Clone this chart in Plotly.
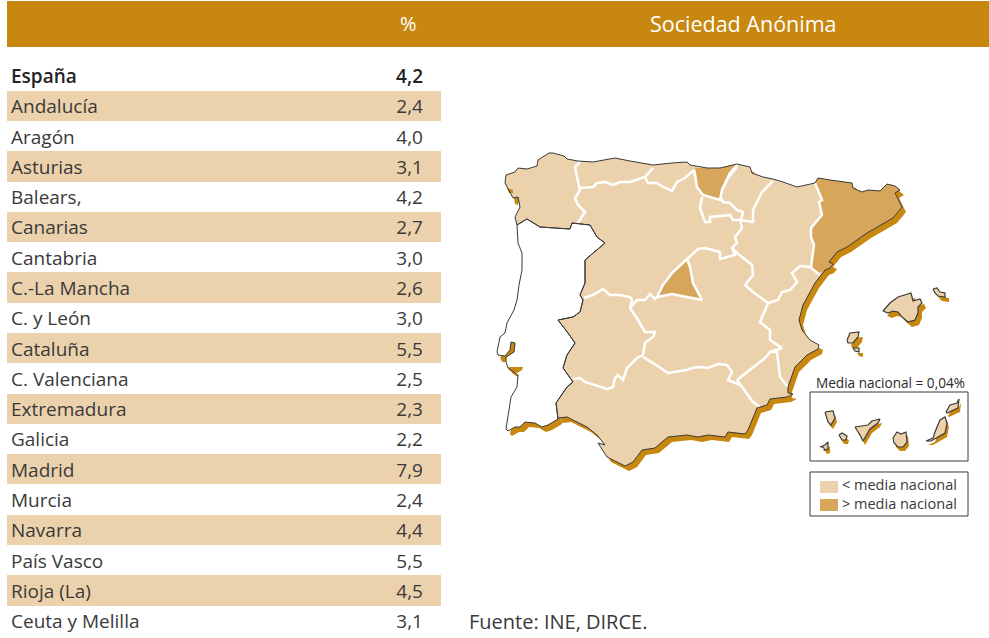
import plotly.graph_objects as go

REGIONS = ["España", "Andalucía", "Aragón", "Asturias", "Balears,", "Canarias", "Cantabria", "C.-La Mancha",
           "C. y León", "Cataluña", "C. Valenciana", "Extremadura", "Galicia", "Madrid", "Murcia", "Navarra",
           "País Vasco", "Rioja (La)", "Ceuta y Melilla"]
VALUES = [4.2, 2.4, 4.0, 3.1, 4.2, 2.7, 3.0, 2.6, 3.0, 5.5, 2.5, 2.3, 2.2, 7.9, 2.4, 4.4, 5.5, 4.5, 3.1]

GOLD = "#C8870F"
LIGHT = "#ECD2AC"
DARK = "#D8A65A"
INK = "#3A3A3A"
FONT = "Open Sans"

SPAIN = [(505,183),(506,175),(515,172),(518,168),(527,169),(537,166),(538,160),(549,153),(553,153),(564,156),(567,159),
 (578,161),(593,162),(605,160),(615,158),(630,161),(653,165),(672,163),(687,162),(690,165),(707,168),(720,168),(737,164),
 (750,167),(752,173),(763,177),(773,179),(783,182),(797,187),(815,183),(818,178),(830,180),(852,183),(853,188),(862,192),
 (868,190),(880,191),(887,184),(895,186),(900,190),(895,193),(902,207),(893,218),(867,233),(847,247),(837,252),(829,262),
 (833,264),(830,268),(825,270),(815,283),(803,305),(799,320),(802,330),(810,340),(819,345),(818,349),(807,355),(795,367),
 (788,387),(788,393),(793,394),(787,397),(770,399),(767,405),(757,408),(748,430),(745,434),(728,432),(725,437),(708,435),
 (698,437),(687,435),(668,437),(655,448),(642,450),(633,462),(625,466),(607,457),(598,443),(605,445),(597,435),(587,427),
 (567,417),(558,418),(556,403),(567,387),(573,382),(563,368),(567,355),(575,343),(568,333),(558,320),(573,317),(580,312),
 (583,300),(580,295),(585,283),(585,260),(605,243),(597,237),(590,225),(572,223),(570,229),(547,227),(540,227),(527,219),
 (517,225),(515,217),(520,207),(518,197),(513,198),(505,183)]
PORTUGAL = [(517,225),(518,243),(522,253),(522,270),(519,285),(517,300),(514,310),(507,323),(505,333),(500,337),(497,352),
 (498,355),(505,356),(510,350),(511,342),(515,343),(514,352),(506,357),(506,362),(508,368),(518,375),(517,387),(511,397),
 (506,429),(508,431),(515,427),(520,427),(525,422),(535,423),(542,427),(548,425),(558,419),(556,403),(567,387),(573,382),
 (563,368),(567,355),(575,343),(568,333),(558,320),(573,317),(580,312),(583,300),(580,295),(585,283),(585,260),(605,243),
 (597,237),(590,225),(572,223),(570,229),(547,227),(540,227),(527,219),(517,225)]
PAIS_VASCO = [(695,168),(707,168),(720,168),(737,164),(730,173),(722,190),(720,200),(703,195),(698,187),(697,177)]
MADRID = [(687,259),(690,267),(693,283),(702,299),(690,298),(672,294),(657,297),(663,283),(672,272)]
CATALUNA = [(815,183),(818,178),(830,180),(852,183),(853,188),(862,192),(868,190),(880,191),(887,184),(895,186),(900,190),
 (895,193),(902,207),(893,218),(867,233),(847,247),(837,252),(829,262),(833,264),(830,268),(819,273),(811,267),(812,257),
 (814,245),(811,237),(811,228),(822,215),(819,202),(822,200)]

# coastal inlets that show the darker tone
INLETS = [
 [(511,342),(515,343),(514,352),(507,357),(505,356),(510,350)],
 [(500,357),(506,356),(506,362),(502,362)],
 [(508,367),(523,367),(522,370),(517,373),(510,371)],
 [(507,188),(513,190),(513,193),(509,193)],
 [(514,198),(518,198),(518,205),(515,204)],
]

BORDERS = [
 [(580,162),(575,167),(577,177),(580,190),(575,198),(578,205),(585,212),(578,223)],
 [(580,188),(593,187),(597,183),(605,182),(613,185),(620,182),(630,182),(638,179),(645,177),(653,168)],
 [(645,177),(648,183),(657,183),(663,187),(672,191),(677,182),(685,178),(694,170)],
 [(694,170),(697,187),(703,195),(720,200),(722,190),(730,173),(738,164)],
 [(702,197),(700,208),(705,222),(710,222),(710,217),(720,216),(730,215),(733,220),(740,220),(753,222),(753,210),(762,192),(773,181)],
 [(720,197),(723,202),(730,203),(737,210),(743,212),(741,220)],
 [(737,167),(728,178),(722,190)],
 [(740,220),(742,228),(735,237),(737,243),(732,248),(735,255),(720,259),(720,252),(705,248),(698,249),(687,259)],
 [(687,259),(672,273),(663,285),(657,297),(672,294),(690,298),(702,300),(693,283),(690,267),(687,259)],
 [(657,297),(655,299),(650,294),(645,300),(637,300),(632,305),(630,308)],
 [(584,298),(593,295),(603,289),(610,295),(620,295),(630,297),(632,300),(630,308),(638,320),(645,332),(655,332),(653,337),(645,343),(643,355)],
 [(573,379),(580,378),(585,382),(607,389),(613,387),(615,378),(618,375),(623,380),(627,368),(637,358),(643,355)],
 [(643,357),(653,363),(668,373),(687,370),(692,368),(698,367),(708,368),(718,364),(727,365),(732,372),(728,380),(740,385)],
 [(737,380),(747,393),(753,402),(760,407)],
 [(737,380),(752,368),(765,358),(770,352),(777,352),(780,377),(788,387)],
 [(810,267),(800,266),(792,273),(797,282),(790,290),(782,292),(778,300),(768,303),(753,292),(745,285),(753,275),(752,265),(737,253),(732,248)],
 [(768,303),(760,322),(770,330),(770,340),(782,348),(770,352)],
 [(810,267),(820,275)],
 [(815,183),(822,200),(819,202),(822,215),(811,228),(811,237),(814,245),(812,257),(811,267)],
]

BALEARES = [
 [(883,311),(890,303),(898,297),(905,295),(911,293),(913,301),(920,299),(922,303),(918,307),(918,313),(915,320),(908,322),(902,317),(898,312),(893,311),(888,313),(883,311)],
 [(933,289),(937,288),(940,292),(945,293),(945,297),(938,296),(935,293),(933,289)],
 [(847,340),(850,333),(859,332),(858,337),(853,343),(848,343),(847,340)],
 [(853,348),(859,348),(859,352),(855,351),(853,348)],
]
CANARIAS = [
 [(825,412),(833,411),(835,418),(831,425),(828,422),(825,412)],
 [(839,435),(842,433),(847,436),(846,440),(842,440),(839,435)],
 [(820,447),(825,445),(828,442),(828,449),(825,450),(823,447),(820,447)],
 [(855,427),(868,425),(872,421),(880,419),(878,423),(870,429),(863,441),(860,435),(855,427)],
 [(893,438),(897,432),(901,434),(906,432),(907,442),(903,447),(898,447),(894,443),(893,438)],
 [(926,441),(933,438),(935,432),(940,420),(945,417),(947,423),(945,433),(937,438),(931,441),(926,441)],
 [(946,412),(950,405),(957,403),(959,399),(958,408),(952,411),(947,413),(946,412)],
]

fig = go.Figure()


def poly(points, fill, line=None, width=1, dx=0, dy=0):
    fig.add_trace(go.Scatter(
        x=[p[0] + dx for p in points], y=[p[1] + dy for p in points], mode="lines",
        fill="toself" if fill else None, fillcolor=fill,
        line=dict(color=line or "rgba(0,0,0,0)", width=width if line else 0),
        hoverinfo="skip", showlegend=False))


# table bands and text, drawn on the row axis
rows = list(range(len(REGIONS)))
band_rows = [r for r in rows if r % 2 == 1]
fig.add_trace(go.Bar(y=band_rows, x=[434] * len(band_rows), base=7, width=1, orientation="h", yaxis="y2",
                     marker=dict(color=LIGHT, line=dict(width=0)), hoverinfo="skip", showlegend=False))
TEXT_SHIFT = 0.09
val_txt = [f"{v:.1f}".replace(".", ",") for v in VALUES]
for sel, weight, color in [(rows[:1], 600, "#222222"), (rows[1:], 400, INK)]:
    fig.add_trace(go.Scatter(x=[11] * len(sel), y=[r + TEXT_SHIFT for r in sel], yaxis="y2", mode="text",
                             text=[REGIONS[r] for r in sel], textposition="middle right",
                             textfont=dict(family=FONT, size=19, color=color, weight=weight),
                             hoverinfo="skip", showlegend=False))
    fig.add_trace(go.Scatter(x=[423] * len(sel), y=[r + TEXT_SHIFT for r in sel], yaxis="y2", mode="text",
                             text=[val_txt[r] for r in sel], textposition="middle left",
                             textfont=dict(family=FONT, size=19, color=color, weight=weight),
                             hoverinfo="skip", showlegend=False))

# map
for p in [SPAIN, PORTUGAL] + BALEARES:
    poly(p, GOLD, dx=4, dy=5)
for p in CANARIAS:
    poly(p, GOLD, dx=2, dy=4)
poly(PORTUGAL, "#FFFFFF")
poly(SPAIN, LIGHT)
for p in INLETS:
    poly(p, GOLD)
poly(PAIS_VASCO, DARK)
poly(MADRID, DARK)
poly(CATALUNA, DARK)
for b in BORDERS:
    poly(b, None, "#FFFFFF", 2.5)
poly(PORTUGAL, None, INK, 1)
poly(SPAIN, None, INK, 1)
for p in BALEARES + CANARIAS:
    poly(p, LIGHT, INK, 1.2)

shapes = [
    dict(type="rect", x0=7, x1=989, y0=1, y1=47, fillcolor=GOLD, line_width=0, layer="below"),
    dict(type="rect", x0=810, x1=968, y0=392, y1=461, fillcolor="rgba(0,0,0,0)", line=dict(color=INK, width=1)),
    dict(type="rect", x0=810, x1=968, y0=472, y1=516, fillcolor="rgba(0,0,0,0)", line=dict(color=INK, width=1)),
    dict(type="rect", x0=820, x1=838, y0=481, y1=493, fillcolor=LIGHT, line_width=0),
    dict(type="rect", x0=820, x1=838, y0=499, y1=511, fillcolor=DARK, line_width=0),
]


def note(x, y, text, size, color=INK, anchor="left"):
    return dict(x=x, y=y, text=text, showarrow=False, xanchor=anchor, yanchor="middle", align="left",
                font=dict(family=FONT, size=size, color=color))


annotations = [
    note(408, 23, "%", 20, "#FFFFFF", "center"),
    note(743, 23, "Sociedad Anónima", 21.5, "#FFFFFF", "center"),
    note(890, 382, "Media nacional = 0,04%", 13.6, "#2A2A2A", "center"),
    note(840, 493.5, "&lt; media nacional<br>&gt; media nacional", 14.5),
    note(467, 621, "Fuente: INE, DIRCE.", 20),
]

ROW0, ROW_H = 75.6, 30.28
fig.update_layout(
    width=989, height=638, margin=dict(l=0, r=0, t=0, b=0),
    paper_bgcolor="#FFFFFF", plot_bgcolor="#FFFFFF",
    xaxis=dict(range=[0, 989], visible=False, fixedrange=True),
    yaxis=dict(range=[638, 0], visible=False, fixedrange=True),
    yaxis2=dict(range=[(638 - ROW0) / ROW_H, -ROW0 / ROW_H], visible=False, overlaying="y", fixedrange=True),
    shapes=shapes, annotations=annotations, bargap=0,
)
fig.write_html("out.html", post_script="document.body.style.margin='0';document.body.style.overflow='hidden';",
               config=dict(displayModeBar=False))
